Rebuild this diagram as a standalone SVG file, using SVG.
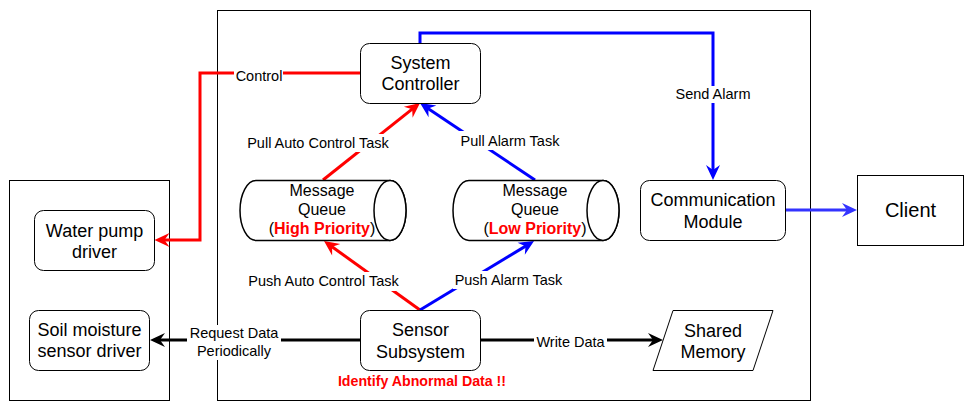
<svg xmlns="http://www.w3.org/2000/svg" width="970" height="410" viewBox="0 0 970 410">
  <style>
    text { font-family: "Liberation Sans", Arial, Helvetica, sans-serif; fill: #000; text-anchor: middle; }
    .node { font-size: 18px; }
    .cyl { font-size: 16px; }
    .lbl { font-size: 14.5px; }
    .box { fill: #fff; stroke: #000; stroke-width: 1; }
    .cylshape { fill: #fff; stroke: #000; stroke-width: 1.5; }
    .bg { fill: #fff; stroke: none; }
    .red { stroke: #ff0000; stroke-width: 3; fill: none; }
    .blue { stroke: #0000ff; stroke-width: 3; fill: none; }
    .lblue { stroke: #3333ff; stroke-width: 3; fill: none; }
    .black { stroke: #000; stroke-width: 3; fill: none; }
    .hl { fill: #ff0000; font-weight: bold; }
  </style>
  <defs>
    <marker id="arrRed" markerUnits="userSpaceOnUse" markerWidth="17" markerHeight="16" viewBox="-10 -8 17 16" refX="0" refY="0" orient="auto">
      <path d="M6,0 L-9,-7 L-4,0 L-9,7 Z" fill="#ff0000"/>
    </marker>
    <marker id="arrBlue" markerUnits="userSpaceOnUse" markerWidth="17" markerHeight="16" viewBox="-10 -8 17 16" refX="0" refY="0" orient="auto">
      <path d="M6,0 L-9,-7 L-4,0 L-9,7 Z" fill="#0000ff"/>
    </marker>
    <marker id="arrLBlue" markerUnits="userSpaceOnUse" markerWidth="17" markerHeight="16" viewBox="-10 -8 17 16" refX="0" refY="0" orient="auto">
      <path d="M6,0 L-9,-7 L-4,0 L-9,7 Z" fill="#3333ff"/>
    </marker>
    <marker id="arrBlack" markerUnits="userSpaceOnUse" markerWidth="17" markerHeight="16" viewBox="-10 -8 17 16" refX="0" refY="0" orient="auto">
      <path d="M6,0 L-9,-7 L-4,0 L-9,7 Z" fill="#000"/>
    </marker>
  </defs>

  <rect width="970" height="410" fill="#fff"/>

  <!-- containers -->
  <g id="main-system">
    <rect class="box" x="217.5" y="10.5" width="593" height="390"/>
  </g>
  <g id="drivers-container">
    <rect class="box" x="9.5" y="180.5" width="160" height="220"/>
  </g>

  <!-- connectors -->
  <g id="connectors">
    <!-- Control -->
    <path class="red" d="M360,73 L200,73 L200,240 L160.5,240" marker-end="url(#arrRed)"/>
    <!-- Send Alarm -->
    <path class="blue" d="M420,43 L420,33 L713,33 L713,174" marker-end="url(#arrBlue)"/>
    <!-- Comm -> Client -->
    <path class="lblue" d="M785,210 L851,210" marker-end="url(#arrLBlue)"/>
    <!-- Push Auto Control Task -->
    <path class="red" d="M420,310 L328.9,244.5" marker-end="url(#arrRed)"/>
    <!-- Push Alarm Task -->
    <path class="blue" d="M420,310 L528.9,244.1" marker-end="url(#arrBlue)"/>
    <!-- Pull Auto Control Task -->
    <path class="red" d="M323,180 L415.3,106.7" marker-end="url(#arrRed)"/>
    <!-- Pull Alarm Task -->
    <path class="blue" d="M535,180 L425,106.4" marker-end="url(#arrBlue)"/>
    <!-- Request Data Periodically -->
    <path class="black" d="M360,340 L156,340" marker-end="url(#arrBlack)"/>
    <!-- Write Data -->
    <path class="black" d="M480,340 L657,340" marker-end="url(#arrBlack)"/>

    <!-- labels -->
    <rect class="bg" x="234" y="66" width="49" height="18"/>
    <text class="lbl" x="259" y="81">Control</text>

    <rect class="bg" x="674" y="86" width="78" height="17"/>
    <text class="lbl" x="713" y="99">Send Alarm</text>

    <rect class="bg" x="246" y="134" width="144" height="18"/>
    <text class="lbl" x="318" y="148">Pull Auto Control Task</text>

    <rect class="bg" x="459" y="131" width="103" height="19"/>
    <text class="lbl" x="510" y="146">Pull Alarm Task</text>

    <rect class="bg" x="247" y="272" width="153" height="19"/>
    <text class="lbl" x="323.5" y="286">Push Auto Control Task</text>

    <rect class="bg" x="453" y="271" width="112" height="18"/>
    <text class="lbl" x="508.5" y="285">Push Alarm Task</text>

    <rect class="bg" x="187" y="325" width="94" height="35"/>
    <text class="lbl" x="234" y="338">Request Data</text>
    <text class="lbl" x="234" y="356">Periodically</text>

    <rect class="bg" x="534" y="333" width="73" height="18"/>
    <text class="lbl" x="570.5" y="347">Write Data</text>
  </g>

  <!-- nodes -->
  <g id="system-controller">
    <rect class="box" x="360.5" y="43.5" width="120" height="60" rx="9"/>
    <text class="node" x="420.5" y="68.5">System</text>
    <text class="node" x="420.5" y="90">Controller</text>
  </g>

  <g id="queue-high">
    <path class="cylshape" d="M256,180.5 L390,180.5 A16,30 0 0 1 390,240.5 L256,240.5 A16,30 0 0 1 256,180.5 Z"/>
    <ellipse class="cylshape" cx="390" cy="210.5" rx="16" ry="30"/>
    <text class="cyl" x="322" y="196">Message</text>
    <text class="cyl" x="322" y="215">Queue</text>
    <text class="cyl" x="322" y="234">(<tspan class="hl">High Priority</tspan>)</text>
  </g>

  <g id="queue-low">
    <path class="cylshape" d="M469,180.5 L603,180.5 A16,30 0 0 1 603,240.5 L469,240.5 A16,30 0 0 1 469,180.5 Z"/>
    <ellipse class="cylshape" cx="603" cy="210.5" rx="16" ry="30"/>
    <text class="cyl" x="535" y="196">Message</text>
    <text class="cyl" x="535" y="215">Queue</text>
    <text class="cyl" x="535" y="234">(<tspan class="hl">Low Priority</tspan>)</text>
  </g>

  <g id="communication-module">
    <rect class="box" x="640.5" y="180.5" width="145" height="60" rx="9"/>
    <text class="node" x="713" y="206">Communication</text>
    <text class="node" x="713" y="227.5">Module</text>
  </g>

  <g id="client">
    <rect class="box" x="857.5" y="175.5" width="106" height="70"/>
    <text x="910.5" y="217" style="font-size:20px">Client</text>
  </g>

  <g id="water-pump-driver">
    <rect class="box" x="34.5" y="210.5" width="120" height="60" rx="9"/>
    <text class="node" x="94.5" y="236.5">Water pump</text>
    <text class="node" x="94.5" y="257.5">driver</text>
  </g>

  <g id="soil-moisture-driver">
    <rect class="box" x="29.5" y="310.5" width="120" height="60" rx="9"/>
    <text class="node" x="89.5" y="335.5">Soil moisture</text>
    <text class="node" x="89.5" y="357">sensor driver</text>
  </g>

  <g id="sensor-subsystem">
    <rect class="box" x="360.5" y="310.5" width="120" height="60" rx="9"/>
    <text class="node" x="420.5" y="336">Sensor</text>
    <text class="node" x="420.5" y="357.5">Subsystem</text>
    <text x="422" y="386" style="font-size:14.2px;font-weight:bold;fill:#ff0000">Identify Abnormal Data !!</text>
  </g>

  <g id="shared-memory">
    <path class="box" d="M673,310.5 L773,310.5 L753,370.5 L653,370.5 Z"/>
    <text class="node" x="713" y="336.5">Shared</text>
    <text class="node" x="713" y="357.5">Memory</text>
  </g>
</svg>
